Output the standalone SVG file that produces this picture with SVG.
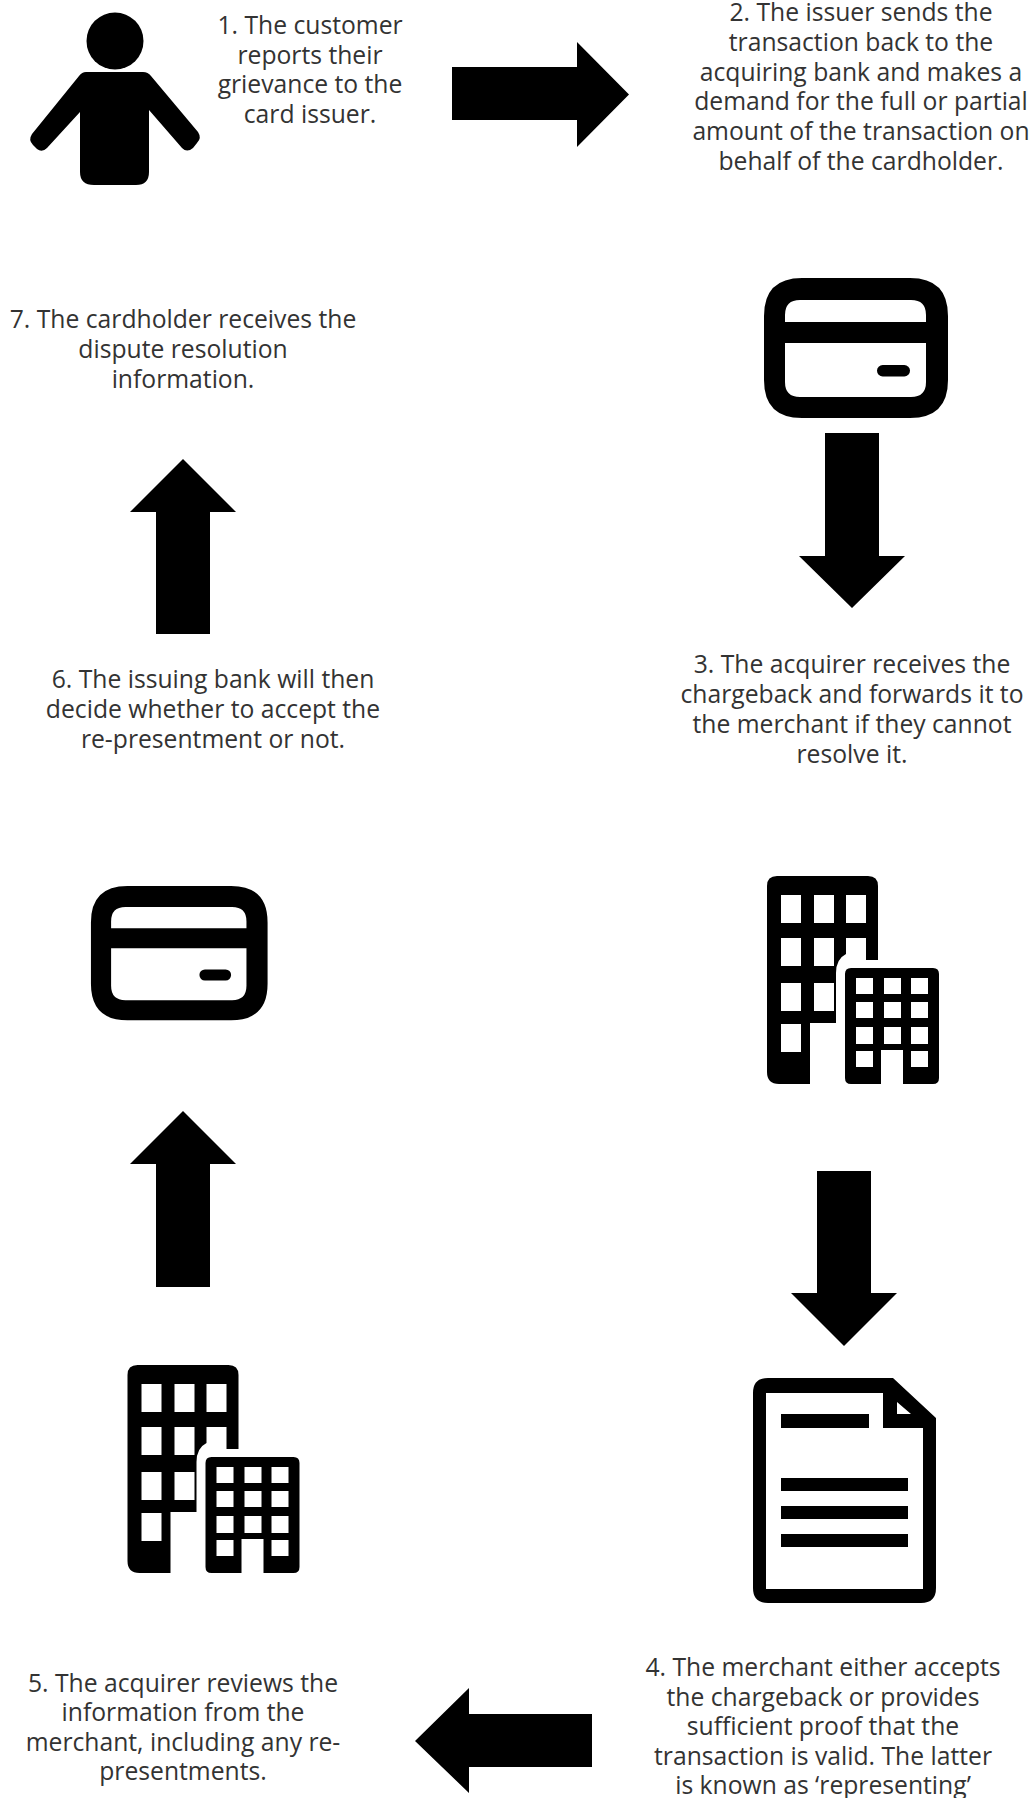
<svg xmlns="http://www.w3.org/2000/svg" width="1035" height="1798" viewBox="0 0 1035 1798">
<style>
text{font-family:"Open Sans","Noto Sans","Liberation Sans",sans-serif;font-size:24.7px;fill:#333;text-anchor:middle}
.k{fill:#000}.w{fill:#fff}
</style>
<defs>
<g id="card"><path class="k" fill-rule="evenodd" d="M802 277H910Q948 277 948 315V379Q948 417 910 417H802Q764 417 764 379V315Q764 277 802 277ZM785 321H926V314Q926 299 911 299H800Q785 299 785 314ZM785 342V381Q785 396 800 396H911Q926 396 926 381V342Z"/><rect class="k" x="877" y="364" width="33" height="11.500" rx="5.700"/></g>
<g id="building"><path class="k" d="M777 875H868Q878 875 878 885V959H866V937H846V953Q836 958 836 972V1022H810V1083H779Q767 1083 767 1071V885Q767 875 777 875Z"/><path class="w" d="M781 894h20v28h-20zM814 894h20v28h-20zM846 894h20v28h-20zM781 937h20v28h-20zM814 937h20v28h-20zM781 982h20v28h-20zM814 982h20v28h-20zM781 1023h20v28h-20z"/><path class="k" d="M851 967H933Q939 967 939 973V1077Q939 1083 933 1083H903V1049H881V1083H851Q845 1083 845 1077V973Q845 967 851 967Z"/><path class="w" d="M856 977h17v16h-17zM884 977h17v16h-17zM911 977h17v16h-17zM856 1001h17v16h-17zM884 1001h17v16h-17zM911 1001h17v16h-17zM856 1026h17v17h-17zM884 1026h17v17h-17zM911 1026h17v17h-17zM856 1050h17v16h-17zM911 1050h17v16h-17z"/></g>
</defs>
<rect width="1035" height="1798" fill="#fff"/>
<g id="connectors" class="k">
<path id="arrow-1-2" d="M452 67H577V42L629 94.500L577 147V120H452Z"/>
<path id="arrow-2-3" d="M825 433H879V556H905L852 608L799 556H825Z"/>
<path id="arrow-3-4" d="M817 1171H871V1293H897L844 1346L791 1293H817Z"/>
<path id="arrow-4-5" d="M592 1714H469V1688L415 1741L469 1793V1767H592Z"/>
<path id="arrow-5-6" d="M156 1287V1164H130L183 1111L236 1164H210V1287Z"/>
<path id="arrow-6-7" d="M156 634V512H130L183 459L236 512H210V634Z"/>
</g>
<g id="node-1">
<g id="person"><circle class="k" cx="115" cy="41" r="28.500"/><path class="k" d="M86 72H143Q148 72 151 76L198 132Q202 138 197 143L193 148Q187 153 182 148L149 110V172Q149 185 136 185H94Q80 185 80 172V112L47 148Q42 153 37 149L33 145Q28 140 32 134L79 76Q82 72 86 72Z"/></g>
<text x="310"><tspan x="310" y="34">1. The customer</tspan><tspan x="310" y="64">reports their</tspan><tspan x="310" y="93">grievance to the</tspan><tspan x="310" y="123">card issuer.</tspan></text>
</g>
<g id="node-2"><text><tspan x="861" y="21">2. The issuer sends the</tspan><tspan x="861" y="51">transaction back to the</tspan><tspan x="861" y="81">acquiring bank and makes a</tspan><tspan x="861" y="110">demand for the full or partial</tspan><tspan x="861" y="140">amount of the transaction on</tspan><tspan x="861" y="170">behalf of the cardholder.</tspan></text></g>
<g id="node-3"><use href="#card" y="1"/><text><tspan x="852" y="673">3. The acquirer receives the</tspan><tspan x="852" y="703">chargeback and forwards it to</tspan><tspan x="852" y="733">the merchant if they cannot</tspan><tspan x="852" y="763">resolve it.</tspan></text></g>
<g id="node-4"><use href="#building" y="1"/>
<g id="document"><path class="k" fill-rule="evenodd" d="M768 1378H893L936 1418V1588Q936 1603 921 1603H768Q753 1603 753 1588V1393Q753 1378 768 1378ZM766 1393V1589H923V1428H883V1393ZM897 1402V1414H911Z"/><path class="k" d="M781 1414h88v14h-88zM781 1478h127v13h-127zM781 1506h127v13h-127zM781 1534h127v13h-127z"/></g>
<text><tspan x="823" y="1676">4. The merchant either accepts</tspan><tspan x="823" y="1706">the chargeback or provides</tspan><tspan x="823" y="1735">sufficient proof that the</tspan><tspan x="823" y="1765">transaction is valid. The latter</tspan><tspan x="823" y="1794">is known as ‘representing’</tspan></text></g>
<g id="node-5"><use href="#building" x="-639.500" y="490"/><text><tspan x="183" y="1692">5. The acquirer reviews the</tspan><tspan x="183" y="1721">information from the</tspan><tspan x="183" y="1751">merchant, including any re-</tspan><tspan x="183" y="1780">presentments.</tspan></text></g>
<g id="node-6"><use href="#card" transform="translate(-642.500 620) scale(.96)"/><text><tspan x="213" y="688">6. The issuing bank will then</tspan><tspan x="213" y="718">decide whether to accept the</tspan><tspan x="213" y="748">re-presentment or not.</tspan></text></g>
<g id="node-7"><text><tspan x="183" y="328">7. The cardholder receives the</tspan><tspan x="183" y="358">dispute resolution</tspan><tspan x="183" y="388">information.</tspan></text></g>
</svg>
